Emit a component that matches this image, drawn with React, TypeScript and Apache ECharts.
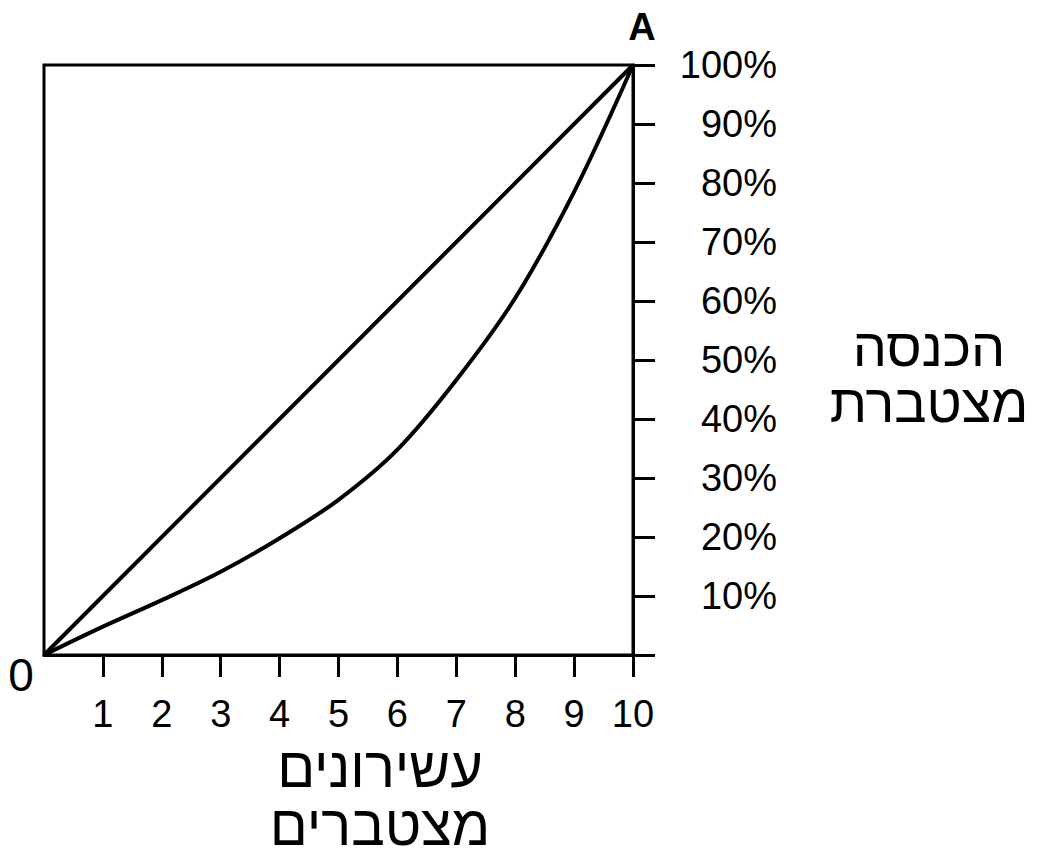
import { useEffect, useRef } from "react";
import * as echarts from "echarts";

// deciles along the bottom, cumulative income share in percent
const deciles = [0, 1, 2, 3, 4, 5, 6, 7, 8, 9, 10];
const lorenzShare = [0, 4.8, 9.3, 14.1, 19.8, 26.3, 34.8, 46.6, 60.5, 78.5, 100];
const equalityShare = [0, 100];
const equalityDeciles = [0, 10];
const xTickValues = [1, 2, 3, 4, 5, 6, 7, 8, 9, 10];

const xTitle = "עשירונים\nמצטברים";
const yTitle = "הכנסה\nמצטברת";
const font = "'Liberation Sans', Arial, Helvetica, sans-serif";

export default function App() {
  const ref = useRef<HTMLDivElement | null>(null);

  useEffect(() => {
    if (!ref.current) {
      return;
    }
    const instance = echarts.init(ref.current, undefined, { renderer: "svg" });

    const curve = deciles.map((d, i) => [d, lorenzShare[i]]);
    const last = equalityDeciles.length - 1;
    const diagonal = equalityDeciles.map((d, i) =>
      i === last
        ? {
            value: [d, equalityShare[i]],
            symbol: "circle",
            symbolSize: 2,
            label: {
              show: true,
              formatter: "A",
              position: "top",
              distance: 18,
              offset: [9, 0],
              color: "#000",
              fontSize: 38,
              fontWeight: "bold",
              fontFamily: font
            }
          }
        : { value: [d, equalityShare[i]], symbol: "none" }
    );

    instance.setOption({
      animation: false,
      backgroundColor: "#fff",
      textStyle: { fontFamily: font },
      grid: {
        left: 44,
        top: 65,
        width: 589,
        height: 590,
        show: true,
        borderColor: "#000",
        borderWidth: 3,
        backgroundColor: "transparent"
      },
      xAxis: {
        type: "value",
        min: 0,
        max: 10,
        interval: 1,
        splitLine: { show: false },
        axisLine: { onZero: false, lineStyle: { color: "#000", width: 3 } },
        axisTick: {
          show: true,
          length: 22,
          customValues: xTickValues,
          lineStyle: { color: "#000", width: 3 }
        },
        axisLabel: {
          customValues: xTickValues,
          margin: 40,
          color: "#000",
          fontSize: 38,
          fontFamily: font
        }
      },
      yAxis: {
        type: "value",
        position: "right",
        min: 0,
        max: 100,
        interval: 10,
        splitLine: { show: false },
        axisLine: { show: true, onZero: false, lineStyle: { color: "#000", width: 3 } },
        axisTick: { show: true, length: 22, lineStyle: { color: "#000", width: 3 } },
        axisLabel: {
          align: "right",
          margin: 144,
          padding: [12, 0, 0, 0],
          color: "#000",
          fontSize: 38,
          fontFamily: font,
          formatter: (v: number) => (v === 0 ? "" : `${v}%`)
        }
      },
      graphic: [
        {
          type: "text",
          x: 21,
          y: 675,
          style: {
            text: "0",
            fill: "#000",
            fontSize: 46,
            fontFamily: font,
            textAlign: "center",
            textVerticalAlign: "middle"
          }
        },
        {
          type: "text",
          x: 380,
          y: 796,
          style: {
            text: xTitle,
            fill: "#000",
            fontSize: 56,
            lineHeight: 58,
            fontFamily: font,
            textAlign: "center",
            textVerticalAlign: "middle"
          }
        },
        {
          type: "text",
          x: 929,
          y: 375,
          style: {
            text: yTitle,
            fill: "#000",
            fontSize: 54,
            lineHeight: 56,
            fontFamily: font,
            textAlign: "center",
            textVerticalAlign: "middle"
          }
        }
      ],
      series: [
        {
          name: "equality",
          type: "line",
          data: diagonal,
          clip: false,
          itemStyle: { color: "#000" },
          lineStyle: { color: "#000", width: 4 }
        },
        {
          name: "lorenz",
          type: "line",
          data: curve,
          smooth: 0.35,
          symbol: "none",
          clip: false,
          lineStyle: { color: "#000", width: 4 }
        }
      ]
    });

    return () => {
      instance.dispose();
    };
  }, []);

  return (
    <div
      ref={ref}
      style={{ position: "fixed", left: 0, top: 0, width: 1042, height: 859, background: "#fff" }}
    />
  );
}
